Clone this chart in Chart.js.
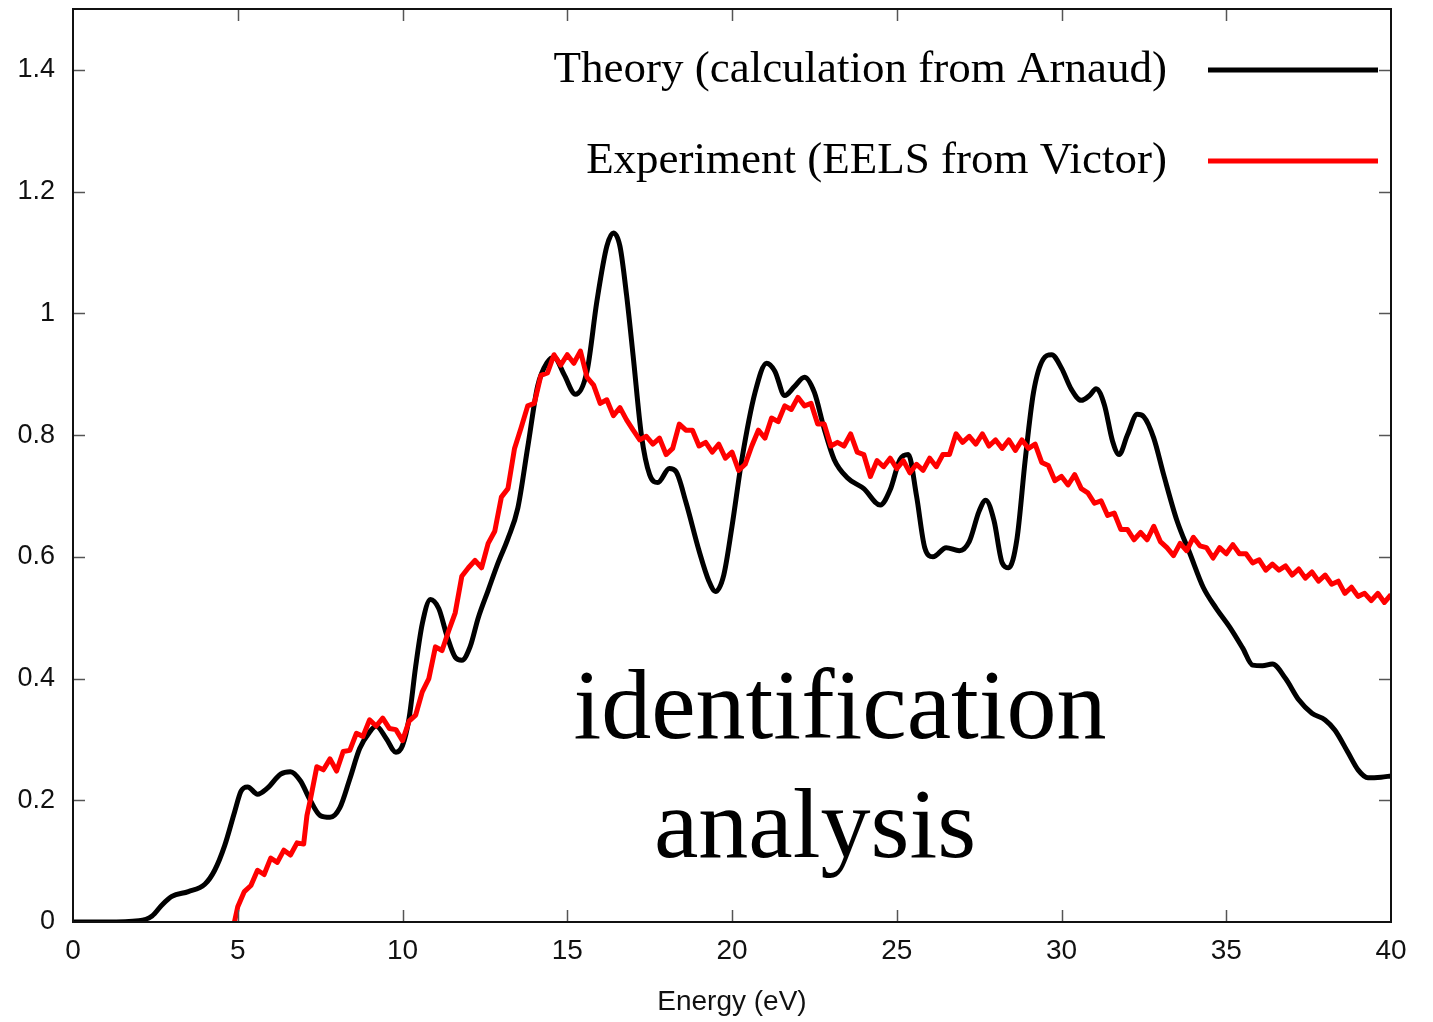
<!DOCTYPE html>
<html>
<head>
<meta charset="utf-8">
<script src="https://cdn.jsdelivr.net/npm/chart.js@4"></script>
<style>
  html, body { margin: 0; padding: 0; background: #fff; }
  #wrap { width: 1433px; height: 1022px; }
</style>
</head>
<body>
<div id="wrap"><canvas id="c" width="1433" height="1022"></canvas></div>
<script>
// ---- data ----
const seriesNames = ["Theory (calculation from Arnaud)", "Experiment (EELS from Victor)"];
const xTitle = "Energy (eV)";
const overlayLines = ["identification", "analysis"];
const xTickValues = [0, 5, 10, 15, 20, 25, 30, 35, 40];
const yTickValues = [0, 0.2, 0.4, 0.6, 0.8, 1, 1.2, 1.4];

const theoryE = [0, 1, 2, 2.4, 2.7, 3.0, 3.5, 4.0, 4.3, 4.6, 4.9, 5.1, 5.3, 5.6, 5.9, 6.3, 6.6, 6.9, 7.2, 7.5, 7.8,
  8.1, 8.4, 8.7, 9.0, 9.2, 9.5, 9.8, 10.0, 10.2, 10.4, 10.6, 10.85, 11.1, 11.35, 11.6, 11.8, 12.05, 12.3, 12.6,
  12.9, 13.2, 13.5, 13.8, 14.1, 14.4, 14.6, 14.9, 15.25, 15.6, 15.9, 16.2, 16.4, 16.6, 16.8, 17.0, 17.25, 17.5,
  17.75, 18.1, 18.3, 18.6, 19.0, 19.3, 19.5, 19.75, 20.0, 20.3, 20.7, 21.05, 21.3, 21.6, 21.9, 22.2, 22.5, 22.8,
  23.1, 23.5, 24.0, 24.5, 24.8, 25.1, 25.35, 25.6, 25.85, 26.1, 26.5, 26.9, 27.2, 27.5, 27.7, 27.95, 28.2, 28.4,
  28.65, 28.9, 29.15, 29.45, 29.7, 30.0, 30.3, 30.6, 30.85, 31.05, 31.3, 31.55, 31.75, 32.0, 32.3, 32.5, 32.8,
  33.1, 33.5, 33.9, 34.3, 34.7, 35.1, 35.5, 35.8, 36.1, 36.4, 36.8, 37.2, 37.6, 38.0, 38.3, 38.7, 39.0, 39.3,
  39.7, 40.0];
const theoryV = [0, 0, 0.002, 0.01, 0.028, 0.042, 0.05, 0.062, 0.085, 0.125, 0.18, 0.215, 0.222, 0.21, 0.22, 0.243,
  0.247, 0.232, 0.2, 0.175, 0.172, 0.188, 0.235, 0.285, 0.312, 0.322, 0.302, 0.279, 0.29, 0.335, 0.42, 0.49,
  0.53, 0.515, 0.47, 0.435, 0.43, 0.452, 0.5, 0.545, 0.59, 0.63, 0.68, 0.78, 0.88, 0.92, 0.928, 0.9, 0.867,
  0.905, 1.02, 1.11, 1.132, 1.11, 1.03, 0.93, 0.8, 0.735, 0.722, 0.745, 0.74, 0.69, 0.61, 0.56, 0.543, 0.57,
  0.65, 0.76, 0.87, 0.918, 0.905, 0.865, 0.88, 0.895, 0.87, 0.81, 0.76, 0.73, 0.712, 0.685, 0.71, 0.76, 0.768,
  0.7, 0.615, 0.6, 0.615, 0.61, 0.625, 0.675, 0.693, 0.66, 0.59, 0.582, 0.63, 0.76, 0.87, 0.925, 0.932, 0.91,
  0.875, 0.857, 0.865, 0.876, 0.85, 0.79, 0.768, 0.8, 0.834, 0.83, 0.795, 0.735, 0.66, 0.605, 0.55, 0.515,
  0.485, 0.45, 0.422, 0.421, 0.424, 0.4, 0.365, 0.343, 0.332, 0.315, 0.278, 0.25, 0.237, 0.238, 0.24];

const exptE = [4.9, 5.0, 5.2, 5.4, 5.6, 5.8, 6.0, 6.2, 6.4, 6.6, 6.8, 7.0, 7.1, 7.2, 7.4, 7.6, 7.8, 8.0, 8.2, 8.4,
  8.6, 8.8, 9.0, 9.2, 9.4, 9.6, 9.8, 10.0, 10.2, 10.4, 10.6, 10.8, 11.0, 11.2, 11.4, 11.6, 11.8, 12.0, 12.2,
  12.4, 12.6, 12.8, 13.0, 13.2, 13.4, 13.6, 13.8, 14.0, 14.2, 14.4, 14.6, 14.8, 15.0, 15.2, 15.4, 15.6, 15.8,
  16.0, 16.2, 16.4, 16.6, 16.8, 17.0, 17.2, 17.4, 17.6, 17.8, 18.0, 18.2, 18.4, 18.6, 18.8, 19.0, 19.2, 19.4,
  19.6, 19.8, 20.0, 20.2, 20.4, 20.6, 20.8, 21.0, 21.2, 21.4, 21.6, 21.8, 22.0, 22.2, 22.4, 22.6, 22.8, 23.0,
  23.2, 23.4, 23.6, 23.8, 24.0, 24.2, 24.4, 24.6, 24.8, 25.0, 25.2, 25.4, 25.6, 25.8, 26.0, 26.2, 26.4, 26.6,
  26.8, 27.0, 27.2, 27.4, 27.6, 27.8, 28.0, 28.2, 28.4, 28.6, 28.8, 29.0, 29.2, 29.4, 29.6, 29.8, 30.0, 30.2,
  30.4, 30.6, 30.8, 31.0, 31.2, 31.4, 31.6, 31.8, 32.0, 32.2, 32.4, 32.6, 32.8, 33.0, 33.2, 33.4, 33.6, 33.8,
  34.0, 34.2, 34.4, 34.6, 34.8, 35.0, 35.2, 35.4, 35.6, 35.8, 36.0, 36.2, 36.4, 36.6, 36.8, 37.0, 37.2, 37.4,
  37.6, 37.8, 38.0, 38.2, 38.4, 38.6, 38.8, 39.0, 39.2, 39.4, 39.6, 39.8, 40.0];
const exptV = [0.0, 0.025, 0.05, 0.06, 0.085, 0.078, 0.105, 0.098, 0.118, 0.11, 0.13, 0.128, 0.175, 0.2, 0.255,
  0.25, 0.268, 0.248, 0.28, 0.282, 0.31, 0.305, 0.332, 0.322, 0.335, 0.318, 0.316, 0.298, 0.33, 0.34, 0.378,
  0.4, 0.452, 0.446, 0.478, 0.508, 0.568, 0.582, 0.594, 0.582, 0.622, 0.642, 0.698, 0.712, 0.778, 0.812,
  0.848, 0.852, 0.898, 0.902, 0.932, 0.915, 0.932, 0.918, 0.938, 0.895, 0.882, 0.852, 0.858, 0.832, 0.845,
  0.825, 0.808, 0.792, 0.798, 0.785, 0.795, 0.768, 0.778, 0.818, 0.808, 0.808, 0.782, 0.788, 0.772, 0.785,
  0.762, 0.772, 0.742, 0.752, 0.782, 0.808, 0.795, 0.828, 0.822, 0.848, 0.842, 0.862, 0.848, 0.852, 0.818,
  0.818, 0.782, 0.788, 0.782, 0.802, 0.772, 0.768, 0.732, 0.758, 0.748, 0.762, 0.745, 0.758, 0.738, 0.752,
  0.742, 0.762, 0.748, 0.768, 0.768, 0.802, 0.788, 0.798, 0.785, 0.802, 0.782, 0.792, 0.778, 0.792, 0.775,
  0.792, 0.778, 0.785, 0.755, 0.75, 0.725, 0.732, 0.718, 0.735, 0.712, 0.705, 0.688, 0.692, 0.668, 0.672,
  0.645, 0.645, 0.628, 0.64, 0.628, 0.65, 0.625, 0.615, 0.602, 0.622, 0.61, 0.632, 0.618, 0.615, 0.598,
  0.615, 0.605, 0.62, 0.605, 0.605, 0.59, 0.595, 0.578, 0.588, 0.578, 0.585, 0.57, 0.58, 0.565, 0.575, 0.56,
  0.57, 0.555, 0.56, 0.54, 0.55, 0.535, 0.54, 0.528, 0.54, 0.525, 0.538];

// ---- build ----
const toPts = (xs, ys) => xs.map((v, i) => ({ x: v, y: ys[i] }));

const decor = {
  id: 'decor',
  afterDatasetsDraw(chart) {
    const { ctx, chartArea: a, scales: { x, y } } = chart;
    ctx.save();
    // inside ticks on all four sides
    ctx.strokeStyle = '#555';
    ctx.lineWidth = 1.5;
    const L = 12;
    const seg = (x1, y1, x2, y2) => { ctx.beginPath(); ctx.moveTo(x1, y1); ctx.lineTo(x2, y2); ctx.stroke(); };
    x.ticks.forEach(t => {
      const px = Math.round(x.getPixelForValue(t.value)) + 0.5;
      if (px <= a.left + 2 || px >= a.right - 2) return;
      seg(px, a.bottom, px, a.bottom - L);
      seg(px, a.top, px, a.top + L);
    });
    y.ticks.forEach(t => {
      const py = Math.round(y.getPixelForValue(t.value)) + 0.5;
      if (py >= a.bottom - 2 || py <= a.top + 2) return;
      seg(a.left, py, a.left + L, py);
      seg(a.right, py, a.right - L, py);
    });
    // frame
    ctx.strokeStyle = '#111';
    ctx.lineWidth = 2;
    ctx.strokeRect(a.left, a.top, a.right - a.left, a.bottom - a.top);

    // legend (top right, inside)
    const ds = chart.data.datasets;
    const order = [1, 0]; // theory first, experiment second
    const rows = [{ y: 70 }, { y: 161 }];
    ctx.font = '45px "Liberation Serif", "DejaVu Serif", serif';
    ctx.textAlign = 'right';
    ctx.textBaseline = 'alphabetic';
    ctx.fillStyle = '#000';
    order.forEach((di, r) => {
      const d = ds[di];
      const ly = rows[r].y;
      ctx.fillText(d.label, 1167, ly + 12);
      ctx.strokeStyle = d.borderColor;
      ctx.lineWidth = 5;
      ctx.lineCap = 'butt';
      seg(1208, ly, 1378, ly);
    });

    // overlay annotation text
    ctx.font = '100px "Liberation Serif", "DejaVu Serif", serif';
    ctx.textAlign = 'center';
    ctx.fillStyle = '#000';
    ctx.fillText(overlayLines[0], 840, 738);
    ctx.fillText(overlayLines[1], 815, 857);
    ctx.restore();
  }
};

const sans = '"Liberation Sans", Arial, Helvetica, sans-serif';

new Chart(document.getElementById('c'), {
  type: 'line',
  data: {
    datasets: [
      {
        label: seriesNames[1],
        data: toPts(exptE, exptV),
        borderColor: '#ff0000',
        borderWidth: 5,
        pointRadius: 0,
        tension: 0,
        borderJoinStyle: 'round'
      },
      {
        label: seriesNames[0],
        data: toPts(theoryE, theoryV),
        borderColor: '#000000',
        borderWidth: 5,
        pointRadius: 0,
        cubicInterpolationMode: 'monotone',
        borderJoinStyle: 'round'
      }
    ]
  },
  options: {
    responsive: false,
    animation: false,
    events: [],
    layout: { padding: { top: 9, right: 42, left: 0, bottom: 0 } },
    plugins: { legend: { display: false }, tooltip: { enabled: false } },
    scales: {
      x: {
        type: 'linear',
        min: 0, max: 40,
        afterFit: s => { s.height = 100; s.paddingLeft = 0; s.paddingRight = 0; },
        afterBuildTicks: s => { s.ticks = xTickValues.map(v => ({ value: v })); },
        grid: { display: false, drawTicks: false },
        border: { display: false },
        ticks: {
          padding: 12,
          color: '#111',
          font: { family: sans, size: 28 },
          callback: v => String(v),
          maxRotation: 0
        },
        title: {
          display: true,
          text: xTitle,
          color: '#111',
          font: { family: sans, size: 28 },
          padding: { top: 0, bottom: 3 }
        }
      },
      y: {
        type: 'linear',
        min: 0, max: 1.5,
        afterFit: s => { s.width = 73; s.paddingTop = 0; s.paddingBottom = 0; },
        afterBuildTicks: s => { s.ticks = yTickValues.map(v => ({ value: v })); },
        grid: { display: false, drawTicks: false },
        border: { display: false },
        ticks: {
          padding: 18,
          color: '#111',
          font: { family: sans, size: 27 },
          callback: v => String(Math.round(v * 10) / 10)
        }
      }
    }
  },
  plugins: [decor]
});
</script>
</body>
</html>
